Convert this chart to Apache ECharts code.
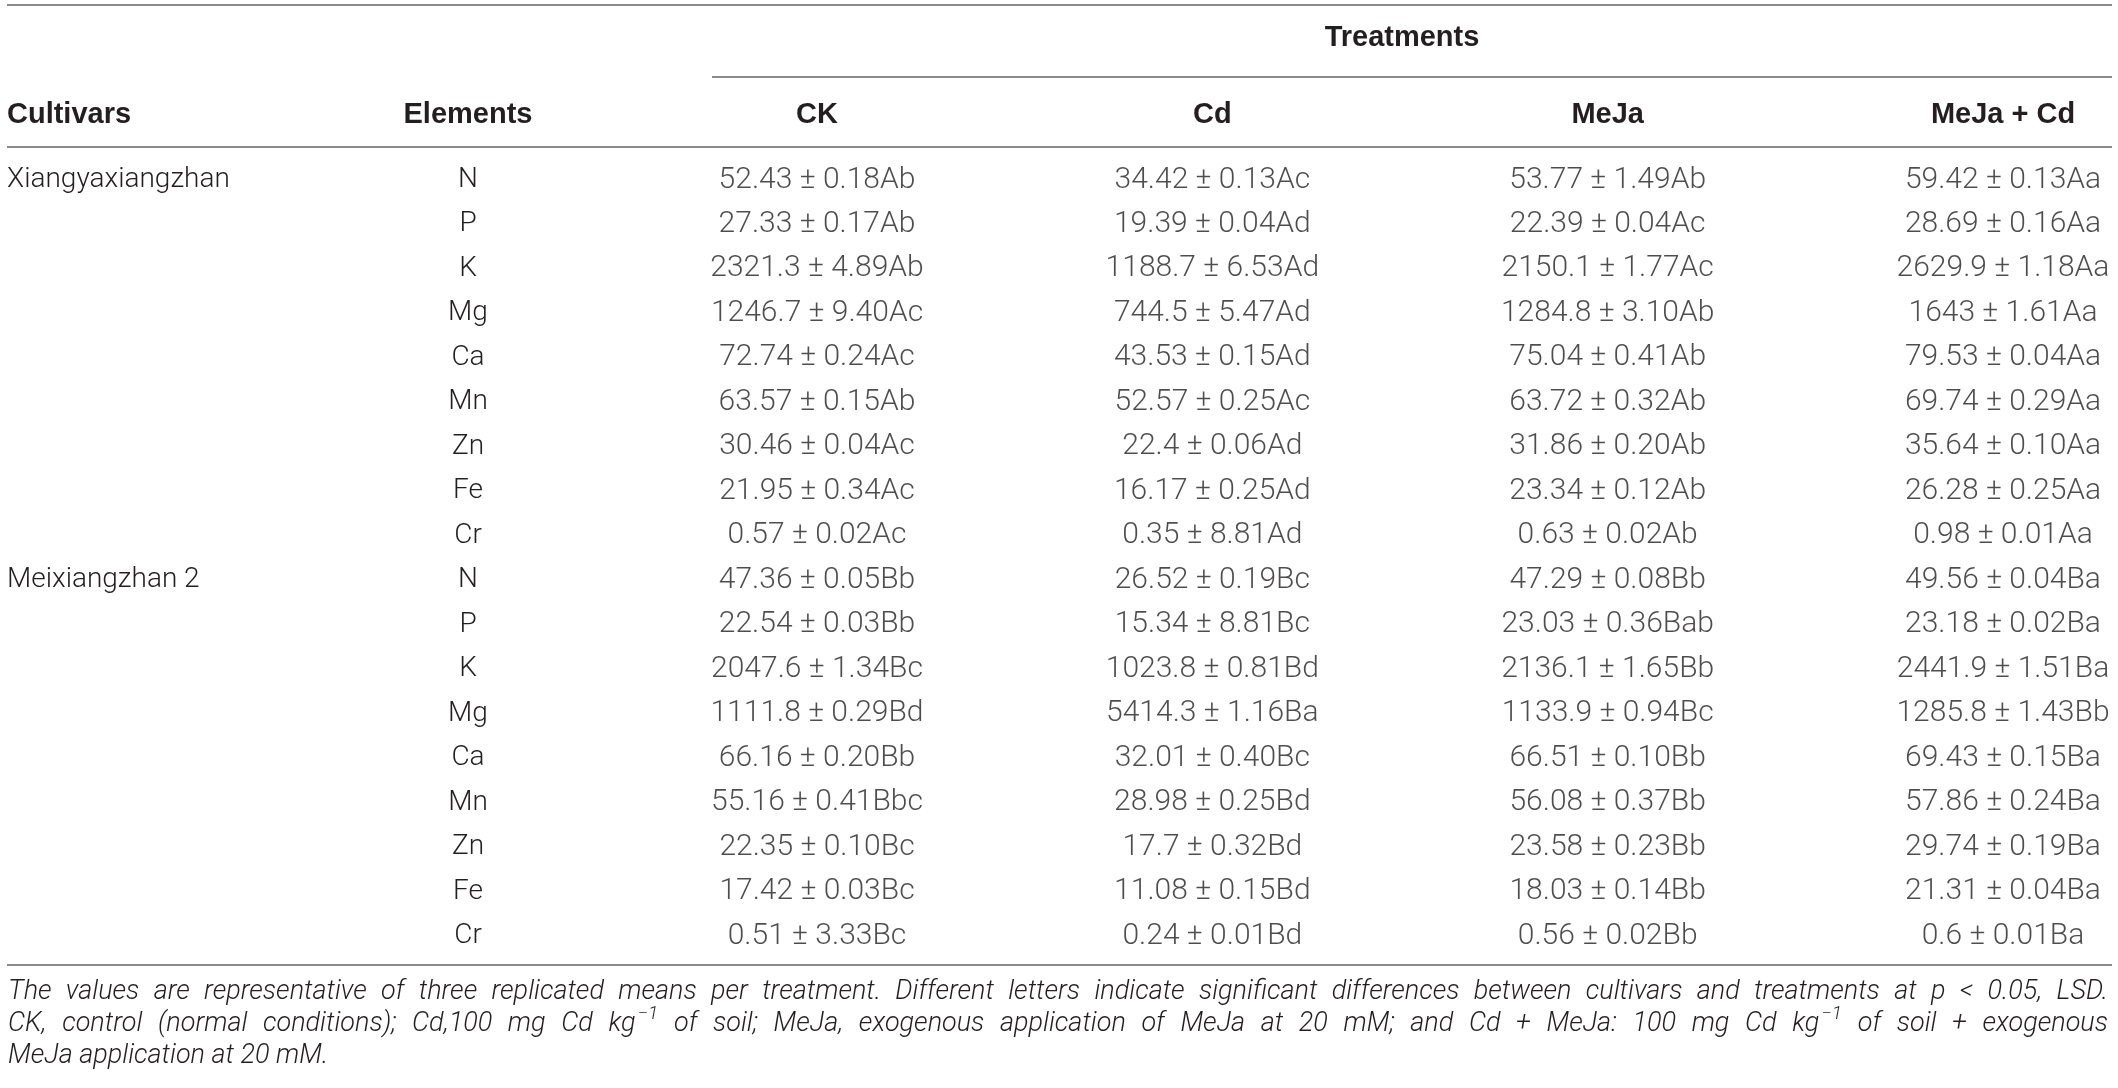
<!DOCTYPE html>
<html>
<head>
<meta charset="utf-8">
<title>Elements by cultivar and treatment</title>
<script src="https://cdn.jsdelivr.net/npm/echarts@6/dist/echarts.min.js"></script>
<style>
  html, body { margin: 0; padding: 0; background: #fff; }
  #table { width: 2118px; height: 1088px; }
  #measure { position: absolute; left: -9999px; top: 0; white-space: pre; visibility: hidden; }
</style>
</head>
<body>
<div id="table"></div>
<span id="measure"></span>
<script>
// 表格数据
var cultivars = ['Xiangyaxiangzhan', 'Meixiangzhan 2'];
var elements = ['N', 'P', 'K', 'Mg', 'Ca', 'Mn', 'Zn', 'Fe', 'Cr'];
var treatments = ['CK', 'Cd', 'MeJa', 'MeJa + Cd'];

var ckMean = [52.43, 27.33, 2321.3, 1246.7, 72.74, 63.57, 30.46, 21.95, 0.57,
              47.36, 22.54, 2047.6, 1111.8, 66.16, 55.16, 22.35, 17.42, 0.51];
var ckSe = [0.18, 0.17, 4.89, 9.40, 0.24, 0.15, 0.04, 0.34, 0.02,
            0.05, 0.03, 1.34, 0.29, 0.20, 0.41, 0.10, 0.03, 3.33];
var ckSig = ['Ab', 'Ab', 'Ab', 'Ac', 'Ac', 'Ab', 'Ac', 'Ac', 'Ac',
             'Bb', 'Bb', 'Bc', 'Bd', 'Bb', 'Bbc', 'Bc', 'Bc', 'Bc'];

var cdMean = [34.42, 19.39, 1188.7, 744.5, 43.53, 52.57, 22.4, 16.17, 0.35,
              26.52, 15.34, 1023.8, 5414.3, 32.01, 28.98, 17.7, 11.08, 0.24];
var cdSe = [0.13, 0.04, 6.53, 5.47, 0.15, 0.25, 0.06, 0.25, 8.81,
            0.19, 8.81, 0.81, 1.16, 0.40, 0.25, 0.32, 0.15, 0.01];
var cdSig = ['Ac', 'Ad', 'Ad', 'Ad', 'Ad', 'Ac', 'Ad', 'Ad', 'Ad',
             'Bc', 'Bc', 'Bd', 'Ba', 'Bc', 'Bd', 'Bd', 'Bd', 'Bd'];

var mejaMean = [53.77, 22.39, 2150.1, 1284.8, 75.04, 63.72, 31.86, 23.34, 0.63,
                47.29, 23.03, 2136.1, 1133.9, 66.51, 56.08, 23.58, 18.03, 0.56];
var mejaSe = [1.49, 0.04, 1.77, 3.10, 0.41, 0.32, 0.20, 0.12, 0.02,
              0.08, 0.36, 1.65, 0.94, 0.10, 0.37, 0.23, 0.14, 0.02];
var mejaSig = ['Ab', 'Ac', 'Ac', 'Ab', 'Ab', 'Ab', 'Ab', 'Ab', 'Ab',
               'Bb', 'Bab', 'Bb', 'Bc', 'Bb', 'Bb', 'Bb', 'Bb', 'Bb'];

var mejaCdMean = [59.42, 28.69, 2629.9, 1643, 79.53, 69.74, 35.64, 26.28, 0.98,
                  49.56, 23.18, 2441.9, 1285.8, 69.43, 57.86, 29.74, 21.31, 0.6];
var mejaCdSe = [0.13, 0.16, 1.18, 1.61, 0.04, 0.29, 0.10, 0.25, 0.01,
                0.04, 0.02, 1.51, 1.43, 0.15, 0.24, 0.19, 0.04, 0.01];
var mejaCdSig = ['Aa', 'Aa', 'Aa', 'Aa', 'Aa', 'Aa', 'Aa', 'Aa', 'Aa',
                 'Ba', 'Ba', 'Ba', 'Bb', 'Ba', 'Ba', 'Ba', 'Ba', 'Ba'];

// 注释, ^ 后面是上标
var captionLines = [
    'The values are representative of three replicated means per treatment. Different letters indicate significant differences between cultivars and treatments at p < 0.05, LSD.',
    'CK, control (normal conditions); Cd,100 mg Cd kg^\u22121 of soil; MeJa, exogenous application of MeJa at 20 mM; and Cd + MeJa: 100 mg Cd kg^\u22121 of soil + exogenous',
    'MeJa application at 20 mM.'
];

var Table = {
    dom: document.getElementById('table'),
    measureDom: document.getElementById('measure'),
    chart: null,
    font: 'Roboto, "Liberation Sans", Arial, sans-serif',
    boldFont: '"Liberation Sans", Arial, sans-serif',
    textColor: '#231f20',
    ruleColor: '#8a8a8a',
    capFont: 'italic 300 27px Roboto, sans-serif',
    supFont: 'italic 300 19px Roboto, sans-serif'
};

// 行标签
Table.rowElements = function () {
    var rows = [];
    cultivars.forEach(function () {
        elements.forEach(function (e) { rows.push(e); });
    });
    return rows;
};
Table.rowCultivars = function () {
    var rows = [];
    cultivars.forEach(function (c) {
        elements.forEach(function (e, i) { rows.push(i == 0 ? c : ''); });
    });
    return rows;
};

Table.cellSeries = function (mean, se, sig, col) {
    var data = [];
    for (var i = 0; i < mean.length; i++) {
        data.push({
            value: [col, i],
            text: String(mean[i]) + ' \u00b1 ' + se[i].toFixed(2) + sig[i]
        });
    }
    return {
        type: 'scatter',
        symbolSize: 1,
        clip: false,
        itemStyle: { color: 'rgba(0,0,0,0)' },
        silent: true,
        data: data,
        label: {
            show: true,
            position: 'inside',
            fontFamily: Table.font,
            fontWeight: 300,
            fontSize: 30,
            color: Table.textColor,
            formatter: function (p) { return p.data.text; }
        }
    };
};

Table.hline = function (x1, x2, y) {
    return {
        type: 'line',
        shape: { x1: x1, y1: y, x2: x2, y2: y },
        style: { stroke: Table.ruleColor, lineWidth: 2 },
        silent: true
    };
};

Table.boldText = function (str, x, y, align) {
    return {
        type: 'text',
        x: x, y: y,
        style: {
            text: str,
            align: align,
            verticalAlign: 'middle',
            font: 'bold 29px ' + Table.boldFont,
            fill: Table.textColor
        },
        silent: true
    };
};

Table.textWidth = function (str, font) {
    Table.measureDom.style.font = font;
    Table.measureDom.textContent = str;
    return Table.measureDom.getBoundingClientRect().width;
};

// 两端对齐的注释行
Table.captionGraphic = function (x0, x1, ys) {
    var out = [];
    var space = Table.textWidth(' ', Table.capFont);
    captionLines.forEach(function (line, li) {
        var words = line.split(' ').map(function (w) {
            var parts = w.split('^');
            var base = Table.textWidth(parts[0], Table.capFont);
            var sup = parts[1] ? Table.textWidth(parts[1], Table.supFont) + 2 : 0;
            return { base: parts[0], sup: parts[1], bw: base, w: base + sup };
        });
        var total = 0;
        words.forEach(function (w) { total += w.w; });
        var gap = space;
        if (li < captionLines.length - 1 && words.length > 1) {
            gap = Math.max(space * 0.6, (x1 - x0 - total) / (words.length - 1));
        }
        var x = x0;
        words.forEach(function (w) {
            out.push({
                type: 'text', x: x, y: ys[li], silent: true,
                style: { text: w.base, align: 'left', verticalAlign: 'middle',
                         font: Table.capFont, fill: Table.textColor }
            });
            if (w.sup) {
                out.push({
                    type: 'text', x: x + w.bw + 2, y: ys[li] - 10, silent: true,
                    style: { text: w.sup, align: 'left', verticalAlign: 'middle',
                             font: Table.supFont, fill: Table.textColor }
                });
            }
            x += w.w + gap;
        });
    });
    return out;
};

Table.getOption = function () {
    var graphic = [
        Table.hline(7, 2112, 5),
        Table.hline(712, 2112, 77),
        Table.hline(7, 2112, 147),
        Table.hline(7, 2112, 965),
        Table.boldText('Treatments', 1402, 38, 'center'),
        Table.boldText('Cultivars', 7, 115, 'left'),
        Table.boldText('Elements', 468, 115, 'center')
    ].concat(Table.captionGraphic(8, 2108, [992, 1024, 1056]));

    return {
        animation: false,
        backgroundColor: '#fff',
        grid: { left: 817, top: 180, width: 1186, height: 756 },
        xAxis: {
            type: 'category',
            position: 'top',
            boundaryGap: false,
            data: treatments,
            axisLine: { show: false },
            axisTick: { show: false },
            splitLine: { show: false },
            axisLabel: {
                interval: 0,
                margin: 65,
                verticalAlign: 'middle',
                fontFamily: Table.boldFont,
                fontWeight: 'bold',
                fontSize: 29,
                color: Table.textColor
            }
        },
        yAxis: [{
            type: 'category',
            inverse: true,
            position: 'left',
            boundaryGap: false,
            data: Table.rowElements(),
            axisLine: { show: false },
            axisTick: { show: false },
            splitLine: { show: false },
            axisLabel: {
                interval: 0,
                margin: 349,
                align: 'center',
                fontFamily: Table.font,
                fontWeight: 300,
                fontSize: 28,
                color: Table.textColor
            }
        }, {
            type: 'category',
            inverse: true,
            position: 'left',
            offset: 0,
            boundaryGap: false,
            data: Table.rowCultivars(),
            axisLine: { show: false },
            axisTick: { show: false },
            splitLine: { show: false },
            axisLabel: {
                interval: 0,
                margin: 810,
                align: 'left',
                fontFamily: Table.font,
                fontWeight: 300,
                fontSize: 28,
                color: Table.textColor
            }
        }],
        series: [
            Table.cellSeries(ckMean, ckSe, ckSig, 0),
            Table.cellSeries(cdMean, cdSe, cdSig, 1),
            Table.cellSeries(mejaMean, mejaSe, mejaSig, 2),
            Table.cellSeries(mejaCdMean, mejaCdSe, mejaCdSig, 3)
        ],
        graphic: graphic
    };
};

Table.chart = echarts.init(Table.dom);
Table.chart.setOption(Table.getOption());
</script>
</body>
</html>
